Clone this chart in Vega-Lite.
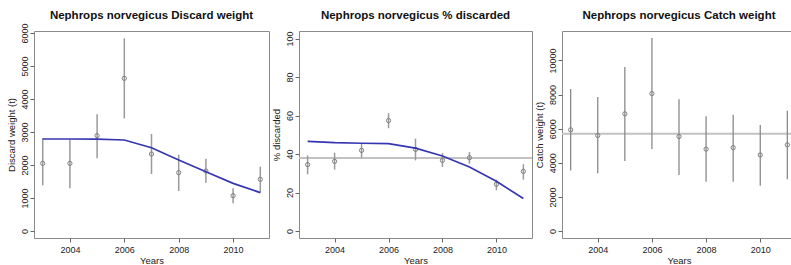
{
  "$schema": "https://vega.github.io/schema/vega-lite/v6.json",
  "padding": {"left": 5, "top": 9, "right": 0, "bottom": 0},
  "background": "white",
  "spacing": 30,
  "bounds": "flush",
  "config": {
    "font": "Liberation Sans",
    "view": {"stroke": "#8a8a8a", "strokeWidth": 1},
    "title": {"font": "Liberation Sans", "fontSize": 11.5, "fontWeight": "bold", "color": "#111", "offset": 10, "anchor": "middle", "frame": "group"},
    "axis": {
      "grid": false, "domain": false, "tickSize": 4, "tickColor": "#666",
      "labelFont": "Liberation Sans", "labelFontSize": 9, "labelColor": "#222", "labelOverlap": false,
      "titleFont": "Liberation Sans", "titleFontSize": 9.5, "titleFontWeight": "normal", "titleColor": "#222"
    },
    "axisX": {"labelPadding": 3, "titlePadding": 1},
    "axisY": {"labelAngle": 270, "labelBaseline": "middle", "labelAlign": "center", "labelPadding": 6, "titlePadding": 4, "format": "d"}
  },
  "datasets": {
    "discard": [
      {"year": 2003, "value": 2050, "lo": 1385, "hi": 2809, "fit": 2788},
      {"year": 2004, "value": 2050, "lo": 1293, "hi": 2778, "fit": 2788},
      {"year": 2005, "value": 2889, "lo": 2202, "hi": 3535, "fit": 2785},
      {"year": 2006, "value": 4626, "lo": 3414, "hi": 5838, "fit": 2758},
      {"year": 2007, "value": 2333, "lo": 1727, "hi": 2939, "fit": 2525},
      {"year": 2008, "value": 1768, "lo": 1212, "hi": 2313, "fit": 2152},
      {"year": 2009, "value": 1818, "lo": 1465, "hi": 2192, "fit": 1798},
      {"year": 2010, "value": 1071, "lo": 838, "hi": 1293, "fit": 1444},
      {"year": 2011, "value": 1566, "lo": 1162, "hi": 1949, "fit": 1162}
    ],
    "pct": [
      {"year": 2003, "value": 34.5, "lo": 29.5, "hi": 39.3, "fit": 46.6},
      {"year": 2004, "value": 36.2, "lo": 31.9, "hi": 40.7, "fit": 45.9},
      {"year": 2005, "value": 41.9, "lo": 38.1, "hi": 45.4, "fit": 45.6},
      {"year": 2006, "value": 57.4, "lo": 53.4, "hi": 61.2, "fit": 45.4},
      {"year": 2007, "value": 42.4, "lo": 36.7, "hi": 48.0, "fit": 43.1},
      {"year": 2008, "value": 36.7, "lo": 33.3, "hi": 40.5, "fit": 39.0},
      {"year": 2009, "value": 38.1, "lo": 35.0, "hi": 41.0, "fit": 33.3},
      {"year": 2010, "value": 24.3, "lo": 21.2, "hi": 26.7, "fit": 25.9},
      {"year": 2011, "value": 31.0, "lo": 26.7, "hi": 34.7, "fit": 16.9}
    ],
    "catch": [
      {"year": 2003, "value": 5930, "lo": 3540, "hi": 8320},
      {"year": 2004, "value": 5600, "lo": 3390, "hi": 7850},
      {"year": 2005, "value": 6870, "lo": 4110, "hi": 9610},
      {"year": 2006, "value": 8060, "lo": 4810, "hi": 11310},
      {"year": 2007, "value": 5540, "lo": 3290, "hi": 7730},
      {"year": 2008, "value": 4800, "lo": 2890, "hi": 6730},
      {"year": 2009, "value": 4890, "lo": 2890, "hi": 6810},
      {"year": 2010, "value": 4460, "lo": 2660, "hi": 6220},
      {"year": 2011, "value": 5050, "lo": 3040, "hi": 7050}
    ],
    "pctMean": [{"mean": 37.9}],
    "catchMean": [{"mean": 5700}]
  },
  "hconcat": [
    {
      "title": {"text": "Nephrops norvegicus Discard weight", "offset": 2},
      "width": 235, "height": 207,
      "data": {"name": "discard"},
      "encoding": {
        "x": {"field": "year", "type": "quantitative", "title": "Years",
              "scale": {"domain": [2002.68, 2011.32], "nice": false, "zero": false},
              "axis": {"values": [2004, 2006, 2008, 2010], "format": "d"}}
      },
      "layer": [
        {"mark": {"type": "rule", "stroke": "#9a9a9a", "strokeWidth": 1.5},
         "encoding": {"y": {"field": "lo", "type": "quantitative", "title": "Discard weight (t)",
                            "scale": {"domain": [-212, 6061], "nice": false, "zero": false},
                            "axis": {"values": [0, 1000, 2000, 3000, 4000, 5000, 6000], "labelOverlap": false}},
                      "y2": {"field": "hi"}}},
        {"mark": {"type": "point", "shape": "circle", "filled": false, "stroke": "#808080", "strokeWidth": 1, "size": 18, "opacity": 1},
         "encoding": {"y": {"field": "value", "type": "quantitative", "title": "Discard weight (t)",
                            "axis": {"values": [0, 1000, 2000, 3000, 4000, 5000, 6000], "labelOverlap": false}}}},
        {"mark": {"type": "line", "stroke": "#3636b3", "strokeWidth": 1.7},
         "encoding": {"y": {"field": "fit", "type": "quantitative", "title": "Discard weight (t)",
                            "axis": {"values": [0, 1000, 2000, 3000, 4000, 5000, 6000], "labelOverlap": false}}}}
      ]
    },
    {
      "title": {"text": "Nephrops norvegicus % discarded", "offset": 10},
      "width": 233, "height": 207,
      "encoding": {
        "x": {"field": "year", "type": "quantitative", "title": "Years",
              "scale": {"domain": [2002.68, 2011.32], "nice": false, "zero": false},
              "axis": {"values": [2004, 2006, 2008, 2010], "format": "d"}}
      },
      "layer": [
        {"data": {"name": "pctMean"},
         "mark": {"type": "rule", "stroke": "#c2c2c2", "strokeWidth": 2},
         "encoding": {"x": null, "y": {"field": "mean", "type": "quantitative", "title": "% discarded",
                            "scale": {"domain": [-3.6, 103.9], "nice": false, "zero": false},
                            "axis": {"values": [0, 20, 40, 60, 80, 100]}}}},
        {"data": {"name": "pct"},
         "mark": {"type": "rule", "stroke": "#9a9a9a", "strokeWidth": 1.5},
         "encoding": {"y": {"field": "lo", "type": "quantitative", "title": "% discarded", "axis": {"values": [0, 20, 40, 60, 80, 100]}}, "y2": {"field": "hi"}}},
        {"data": {"name": "pct"},
         "mark": {"type": "point", "shape": "circle", "filled": false, "stroke": "#808080", "strokeWidth": 1, "size": 18, "opacity": 1},
         "encoding": {"y": {"field": "value", "type": "quantitative", "title": "% discarded", "axis": {"values": [0, 20, 40, 60, 80, 100]}}}},
        {"data": {"name": "pct"},
         "mark": {"type": "line", "stroke": "#3636b3", "strokeWidth": 1.7},
         "encoding": {"y": {"field": "fit", "type": "quantitative", "title": "% discarded", "axis": {"values": [0, 20, 40, 60, 80, 100]}}}}
      ]
    },
    {
      "title": {"text": "Nephrops norvegicus Catch weight", "offset": 10},
      "width": 234, "height": 207,
      "encoding": {
        "x": {"field": "year", "type": "quantitative", "title": "Years",
              "scale": {"domain": [2002.68, 2011.32], "nice": false, "zero": false},
              "axis": {"values": [2004, 2006, 2008, 2010], "format": "d"}}
      },
      "layer": [
        {"data": {"name": "catchMean"},
         "mark": {"type": "rule", "stroke": "#c2c2c2", "strokeWidth": 2},
         "encoding": {"x": null, "y": {"field": "mean", "type": "quantitative", "title": "Catch weight (t)",
                            "scale": {"domain": [-411, 11727], "nice": false, "zero": false},
                            "axis": {"values": [0, 2000, 4000, 6000, 8000, 10000]}}}},
        {"data": {"name": "catch"},
         "mark": {"type": "rule", "stroke": "#8a8a8a", "strokeWidth": 1.3},
         "encoding": {"y": {"field": "lo", "type": "quantitative", "title": "Catch weight (t)", "axis": {"values": [0, 2000, 4000, 6000, 8000, 10000]}}, "y2": {"field": "hi"}}},
        {"data": {"name": "catch"},
         "mark": {"type": "point", "shape": "circle", "filled": false, "stroke": "#808080", "strokeWidth": 1, "size": 18, "opacity": 1},
         "encoding": {"y": {"field": "value", "type": "quantitative", "title": "Catch weight (t)", "axis": {"values": [0, 2000, 4000, 6000, 8000, 10000]}}}}
      ]
    }
  ]
}
